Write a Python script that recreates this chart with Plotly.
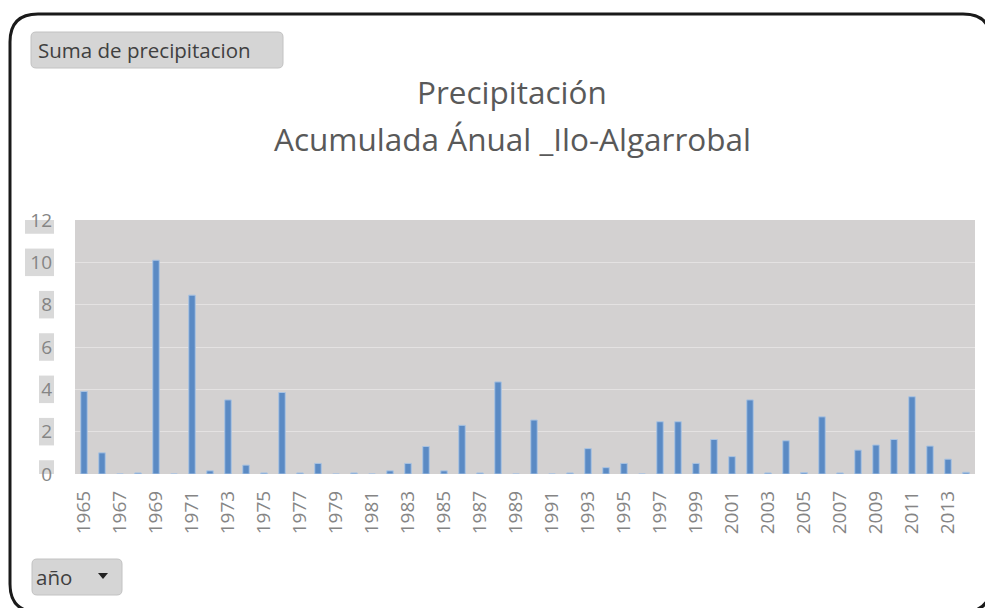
import plotly.graph_objects as go

years = list(range(1965, 2015))
precip = [3.9, 1.0, 0.0, 0.05, 10.1, 0.0, 8.45, 0.15, 3.5, 0.42,
          0.05, 3.85, 0.05, 0.5, 0.0, 0.05, 0.0, 0.15, 0.5, 1.3,
          0.15, 2.3, 0.05, 4.35, 0.0, 2.55, 0.0, 0.05, 1.2, 0.3,
          0.5, 0.0, 2.47, 2.47, 0.5, 1.63, 0.82, 3.5, 0.05, 1.57,
          0.07, 2.7, 0.05, 1.13, 1.37, 1.63, 3.65, 1.32, 0.7, 0.08]
x_tick_years = list(range(1965, 2014, 2))
y_ticks = [0, 2, 4, 6, 8, 10, 12]

title_line1 = "Precipitación"
title_line2 = "Acumulada Ánual _Ilo-Algarrobal"
button_top = "Suma de precipitacion"
button_bottom = "año"

OFF = 8  # page body margin
W, H = 985, 600
L, T = 75 - OFF, 220 - OFF
R = W - (975 - OFF)
B = H - (474 - OFF)
PW, PH = W - L - R, H - T - B
FONT = "Open Sans, sans-serif"


def px(xp):
    return (xp - OFF - L) / PW


def py(yp):
    return (H - B - (yp - OFF)) / PH


fig = go.Figure()
fig.add_trace(go.Bar(x=years, y=precip, width=0.36,
                     marker=dict(color="#5a8ac4", line=dict(color="#a9c3e2", width=1))))

shapes = []
# y tick label boxes
for v in y_ticks:
    wbox = 29 if v >= 10 else 15
    shapes.append(dict(type="rect", xref="paper", yref="y",
                       x0=px(54 - wbox), x1=px(54), y0=v - 0.65, y1=v + 0.65,
                       fillcolor="#d9d9d9", line=dict(width=0), layer="below"))

# outer rounded frame
x0, x1, y0, y1 = px(10), px(991), py(612), py(14)
rx, ry = 28 / PW, 28 / PH
path = (f"M {x0+rx},{y1} L {x1-rx},{y1} Q {x1},{y1} {x1},{y1-ry} "
        f"L {x1},{y0+ry} Q {x1},{y0} {x1-rx},{y0} L {x0+rx},{y0} "
        f"Q {x0},{y0} {x0},{y0+ry} L {x0},{y1-ry} Q {x0},{y1} {x0+rx},{y1} Z")
shapes.append(dict(type="path", xref="paper", yref="paper", path=path,
                   line=dict(color="#1a1a1a", width=3)))


def rounded(xa, ya, xb, yb, r=5):
    a, b, c, d = px(xa), px(xb), py(yb), py(ya)
    rx_, ry_ = r / PW, r / PH
    return (f"M {a+rx_},{d} L {b-rx_},{d} Q {b},{d} {b},{d-ry_} "
            f"L {b},{c+ry_} Q {b},{c} {b-rx_},{c} L {a+rx_},{c} "
            f"Q {a},{c} {a},{c+ry_} L {a},{d-ry_} Q {a},{d} {a+rx_},{d} Z")


shapes.append(dict(type="path", xref="paper", yref="paper", path=rounded(31, 32, 283, 68),
                   fillcolor="#d5d5d5", line=dict(color="#c2c2c2", width=1)))
shapes.append(dict(type="path", xref="paper", yref="paper", path=rounded(32, 559, 122, 595),
                   fillcolor="#d5d5d5", line=dict(color="#c2c2c2", width=1)))
# dropdown triangle
tx, ty = 103, 576
shapes.append(dict(type="path", xref="paper", yref="paper",
                   path=f"M {px(tx-5)},{py(ty-3)} L {px(tx+5)},{py(ty-3)} L {px(tx)},{py(ty+3)} Z",
                   fillcolor="#222222", line=dict(width=0)))

annotations = [
    dict(text=title_line1, xref="paper", yref="paper", x=px(512), y=py(91),
         showarrow=False, font=dict(family=FONT, size=31.5, color="#595959"),
         xanchor="center", yanchor="middle"),
    dict(text=title_line2, xref="paper", yref="paper", x=px(512), y=py(139),
         showarrow=False, font=dict(family=FONT, size=31.5, color="#595959"),
         xanchor="center", yanchor="middle"),
    dict(text=button_top, xref="paper", yref="paper", x=px(36), y=py(50),
         showarrow=False, font=dict(family=FONT, size=20.5, color="#404040"),
         xanchor="left", yanchor="middle"),
    dict(text=button_bottom, xref="paper", yref="paper", x=px(34), y=py(577),
         showarrow=False, font=dict(family=FONT, size=20.5, color="#404040"),
         xanchor="left", yanchor="middle"),
]

fig.update_layout(
    width=W, height=H,
    margin=dict(l=L, r=R, t=T, b=B, autoexpand=False),
    paper_bgcolor="#ffffff",
    plot_bgcolor="#d3d1d1",
    showlegend=False,
    shapes=shapes,
    annotations=annotations,
    font=dict(family=FONT, color="#777777"),
    bargap=0.6,
)
fig.update_xaxes(range=[1964.5, 2014.5], tickmode="array", tickvals=x_tick_years,
                 ticktext=[str(y) for y in x_tick_years], tickangle=-90,
                 tickfont=dict(size=19, color="#858585"), showgrid=False,
                 zeroline=False, showline=False, ticks="", ticklen=0,
                 ticklabelstandoff=12)
fig.update_yaxes(range=[0, 12], tickvals=y_ticks, tickfont=dict(size=19, color="#858585"),
                 showgrid=True, gridcolor="#e4e2e2", gridwidth=1, zeroline=False,
                 showline=False, ticks="", ticklabelstandoff=22)

fig.write_html("out.html")
